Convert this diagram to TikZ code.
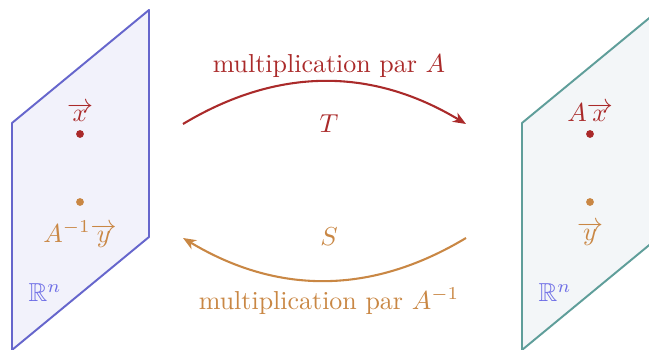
\documentclass[tikz,border=0pt]{standalone}
\usepackage{amssymb}
\usetikzlibrary{arrows.meta}
\definecolor{planeblue}{RGB}{102,102,204}
\definecolor{fillblue}{RGB}{242,242,251}
\definecolor{planeteal}{RGB}{95,158,154}
\definecolor{fillteal}{RGB}{243,246,248}
\definecolor{myred}{RGB}{170,42,42}
\definecolor{myorange}{RGB}{201,135,68}
\definecolor{rnblue}{RGB}{110,110,230}
\tikzset{
  plane/.style={line width=0.75pt, line join=round},
  dotpt/.style={circle, inner sep=0pt, minimum size=3pt, fill=#1},
  maparrow/.style={line width=0.8pt, -{Stealth[length=5pt,width=4pt,inset=1.5pt]}},
}
\begin{document}
\begin{tikzpicture}[x=0.385pt, y=-0.385pt]
\useasboundingbox (0,0) rectangle (649,350);
\begin{scope}
\clip (0,0) rectangle (649,350);
% left plane
\draw[plane, draw=planeblue, fill=fillblue] (12,123) -- (149,10) -- (149,237) -- (12,350) -- cycle;
% right plane
\draw[plane, draw=planeteal, fill=fillteal] (522,123) -- (659,10) -- (659,237) -- (522,350) -- cycle;
\end{scope}
% points
\node[dotpt=myred] (x) at (80,134) {};
\node[dotpt=myorange] (y1) at (80,202) {};
\node[dotpt=myred] (ax) at (590,134) {};
\node[dotpt=myorange] (y) at (590,202) {};
% labels
\node[text=myred] (lx) at (80,112) {$\overrightarrow{x}$};
\node[text=myorange] (ly1) at (80,234) {$A^{-1}\overrightarrow{y}$};
\node[text=myred] (lax) at (590,112) {$A\overrightarrow{x}$};
\node[text=myorange] (ly) at (590,234) {$\overrightarrow{y}$};
\node[text=rnblue] (rn1) at (45,293) {$\mathbb{R}^n$};
\node[text=rnblue] (rn2) at (555,293) {$\mathbb{R}^n$};
% arrow endpoints
\coordinate (t1) at (183,124);
\coordinate (t2) at (466,124);
\coordinate (s1) at (466,238);
\coordinate (s2) at (183,238);
\draw[maparrow, myred] (t1) to[bend left=31] (t2);
\draw[maparrow, myorange] (s1) to[bend left=31] (s2);
\node[text=myred] (mA) at (329,66) {multiplication par $A$};
\node[text=myred] (T) at (329,124) {$T$};
\node[text=myorange] (S) at (329,237) {$S$};
\node[text=myorange] (mAi) at (329,301) {multiplication par $A^{-1}$};
\end{tikzpicture}
\end{document}
